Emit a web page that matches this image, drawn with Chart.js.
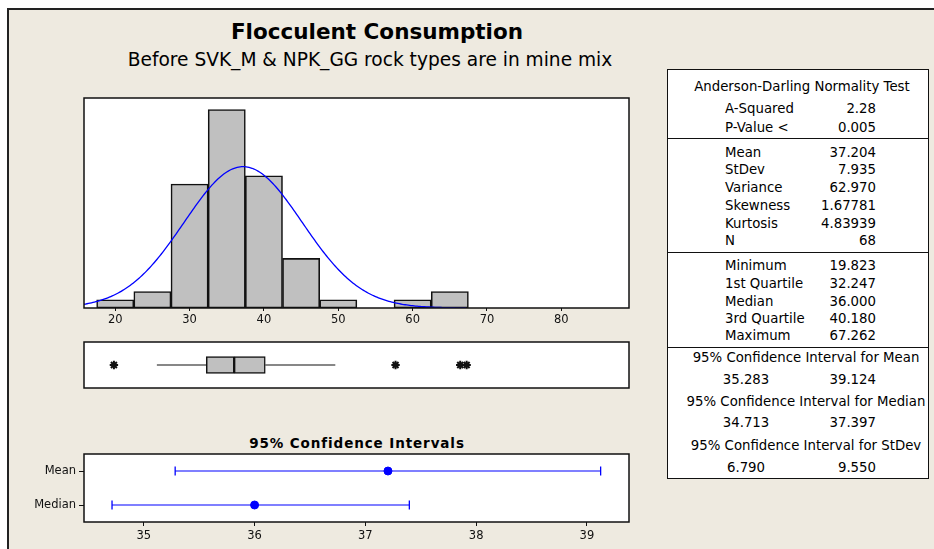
<!DOCTYPE html>
<html>
<head>
<meta charset="utf-8">
<title>Flocculent Consumption</title>
<script src="https://cdn.jsdelivr.net/npm/chart.js@4.4.1/dist/chart.umd.min.js"></script>
<style>
  html, body { margin: 0; padding: 0; width: 934px; height: 549px; overflow: hidden; background: #ffffff;
    font-family: "DejaVu Sans", Verdana, sans-serif; color: #000; }
  #frame { position: absolute; left: 7px; top: 8px; width: 960px; height: 580px; background: #EEEAE0;
    border-left: 2px solid #222; border-top: 2px solid #222; }
  .txt { position: absolute; white-space: nowrap; }
  canvas { position: absolute; }
  #stats { position: absolute; left: 667px; top: 69px; width: 260px; height: 408px; background: #fff;
    border: 1.5px solid #111; }
  .rule { position: absolute; left: 667px; width: 262px; height: 0; border-top: 1.5px solid #111; }
</style>
</head>
<body>
<div id="frame"></div>
<div id="stats"></div>
<script>
// ---- Histogram bins (width 5) ----
const BIN_CENTERS = [20, 25, 30, 35, 40, 45, 50, 55, 60, 65, 70, 75, 80, 85];
const BIN_COUNTS  = [1, 2, 15, 24, 16, 6, 1, 0, 1, 2, 0, 0, 0, 0];
const HIST_TICKS  = [20, 30, 40, 50, 60, 70, 80];

// ---- Summary statistics ----
const AD_LABELS = ['A-Squared', 'P-Value <'];
const AD_VALUES = ['2.28', '0.005'];
const MOMENT_LABELS = ['Mean', 'StDev', 'Variance', 'Skewness', 'Kurtosis', 'N'];
const MOMENT_VALUES = [37.204, 7.935, 62.970, 1.67781, 4.83939, 68];
const MOMENT_DIGITS = [3, 3, 3, 5, 5, 0];
const QUANTILE_LABELS = ['Minimum', '1st Quartile', 'Median', '3rd Quartile', 'Maximum'];
const QUANTILE_VALUES = [19.823, 32.247, 36.000, 40.180, 67.262];

// ---- Boxplot whisker ends and outliers ----
const WHISKER_ENDS = [25.6, 49.6];
const OUTLIERS = [19.823, 57.7, 66.4, 67.262];

// ---- 95% confidence intervals ----
const CI_NAMES = ['Mean', 'Median', 'StDev'];
const CI_LOW   = [35.283, 34.713, 6.790];
const CI_HIGH  = [39.124, 37.397, 9.550];
const CI_TICKS = [35, 36, 37, 38, 39];

const MEAN = MOMENT_VALUES[0], STDEV = MOMENT_VALUES[1], N = MOMENT_VALUES[5];
const Q1 = QUANTILE_VALUES[1], MEDIAN = QUANTILE_VALUES[2], Q3 = QUANTILE_VALUES[3], MAXV = QUANTILE_VALUES[4];
const BIN_WIDTH = 5;

const FONT = '"DejaVu Sans", Verdana, sans-serif';
const PAD = 3;

// ---------- text helpers ----------
function addText(str, x, y, size, align, extra) {
  const d = document.createElement('div');
  d.className = 'txt';
  d.textContent = str;
  const lh = Math.round(size * 1.2);
  d.style.fontSize = size + 'px';
  d.style.lineHeight = lh + 'px';
  d.style.top = (y - lh / 2) + 'px';
  if (align === 'left') { d.style.left = x + 'px'; }
  else if (align === 'right') { d.style.left = (x - 400) + 'px'; d.style.width = '400px'; d.style.textAlign = 'right'; }
  else { d.style.left = (x - 300) + 'px'; d.style.width = '600px'; d.style.textAlign = 'center'; }
  if (extra) Object.assign(d.style, extra);
  document.body.appendChild(d);
  return d;
}
function addRule(y) {
  const r = document.createElement('div');
  r.className = 'rule';
  r.style.top = y + 'px';
  document.body.appendChild(r);
}

// ---------- titles ----------
addText('Flocculent Consumption', 377, 32, 21.5, 'center', { fontWeight: 'bold' });
addText('Before SVK_M & NPK_GG rock types are in mine mix', 370, 60, 18.6, 'center');
addText('95% Confidence Intervals', 357, 443, 13.5, 'center', { fontWeight: 'bold', letterSpacing: '0.9px' });

// ---------- statistics table ----------
const TBL_SIZE = 13.3, LABEL_X = 725, VALUE_X = 876, HEAD_X = 802, PAIR_X = 746;
addText('Anderson-Darling Normality Test', HEAD_X, 87, TBL_SIZE, 'center');
[109, 127.5].forEach((y, i) => {
  addText(AD_LABELS[i], LABEL_X, y, TBL_SIZE, 'left');
  addText(AD_VALUES[i], VALUE_X, y, TBL_SIZE, 'right');
});
addRule(138);
[152.7, 170, 187.5, 206, 223.5, 241].forEach((y, i) => {
  addText(MOMENT_LABELS[i], LABEL_X, y, TBL_SIZE, 'left');
  addText(MOMENT_VALUES[i].toFixed(MOMENT_DIGITS[i]), VALUE_X, y, TBL_SIZE, 'right');
});
addRule(252);
[265.5, 284.3, 301.7, 318.5, 335.7].forEach((y, i) => {
  addText(QUANTILE_LABELS[i], LABEL_X, y, TBL_SIZE, 'left');
  addText(QUANTILE_VALUES[i].toFixed(3), VALUE_X, y, TBL_SIZE, 'right');
});
addRule(347);
[[357.5, 380], [401.7, 423.3], [445.7, 467.7]].forEach((ys, i) => {
  addText('95% Confidence Interval for ' + CI_NAMES[i], HEAD_X + 4, ys[0], TBL_SIZE, 'center');
  addText(CI_LOW[i].toFixed(3), PAIR_X, ys[1], TBL_SIZE, 'center');
  addText(CI_HIGH[i].toFixed(3), VALUE_X, ys[1], TBL_SIZE, 'right');
});

// ---------- chart helpers ----------
function makeCanvas(area, axisLeft, axisBottom) {
  const c = document.createElement('canvas');
  const w = area.r - area.l + axisLeft + 2 * PAD;
  const h = area.b - area.t + axisBottom + 2 * PAD;
  c.width = w; c.height = h;
  c.style.width = w + 'px'; c.style.height = h + 'px';
  c.style.left = (area.l - axisLeft - PAD) + 'px';
  c.style.top = (area.t - PAD) + 'px';
  document.body.appendChild(c);
  return c;
}

// white plot panel with a dark frame
const panelFrame = {
  id: 'panelFrame',
  beforeDraw(chart) {
    const { ctx, chartArea: a } = chart;
    ctx.save();
    ctx.fillStyle = '#ffffff';
    ctx.fillRect(a.left, a.top, a.right - a.left, a.bottom - a.top);
    ctx.restore();
  },
  afterDatasetsDraw(chart) {
    const { ctx, chartArea: a } = chart;
    ctx.save();
    ctx.strokeStyle = '#111';
    ctx.lineWidth = 1.5;
    ctx.strokeRect(a.left, a.top, a.right - a.left, a.bottom - a.top);
    ctx.restore();
  }
};

const baseOptions = {
  responsive: false,
  animation: false,
  events: [],
  layout: { padding: PAD, autoPadding: false },
  plugins: { legend: { display: false }, tooltip: { enabled: false } }
};

function fixedHeight(h) {
  return s => { s.height = h; s.paddingLeft = 0; s.paddingRight = 0; };
}
function fixedWidth(w) {
  return s => { s.width = w; s.paddingTop = 0; s.paddingBottom = 0; };
}

const X_MIN = 15.8, X_MAX = 89.1;

// ---------- histogram with fitted normal curve ----------
const peakScale = N * BIN_WIDTH / (STDEV * Math.sqrt(2 * Math.PI));
const normalCurve = [];
for (let x = X_MIN; x <= MAXV + 1e-9; x += 0.2) {
  const z = (x - MEAN) / STDEV;
  normalCurve.push({ x: x, y: peakScale * Math.exp(-0.5 * z * z) });
}

new Chart(makeCanvas({ l: 84, t: 98, r: 629, b: 308 }, 0, 22), {
  type: 'scatter',
  data: {
    datasets: [
      {
        type: 'line', data: normalCurve, borderColor: '#0000ff', borderWidth: 1.3,
        pointRadius: 0, tension: 0, order: 0
      },
      {
        type: 'bar', data: BIN_CENTERS.map((x, i) => ({ x: x, y: BIN_COUNTS[i] })),
        backgroundColor: '#c0c0c0', borderColor: '#111', borderWidth: 1.6, borderSkipped: false,
        barPercentage: 1, categoryPercentage: 1, order: 1
      }
    ]
  },
  options: Object.assign({}, baseOptions, {
    scales: {
      x: {
        type: 'linear', min: X_MIN, max: X_MAX, offset: false,
        afterBuildTicks: s => { s.ticks = HIST_TICKS.map(v => ({ value: v })); },
        afterFit: fixedHeight(22),
        grid: { drawOnChartArea: false, drawTicks: true, tickLength: 3, color: '#111', offset: false },
        border: { display: false },
        ticks: { color: '#111', font: { family: FONT, size: 11.5 }, padding: 2, maxRotation: 0, autoSkip: false }
      },
      y: { type: 'linear', display: false, min: 0, max: 25.4 }
    }
  }),
  plugins: [panelFrame]
});

// ---------- boxplot ----------
new Chart(makeCanvas({ l: 84, t: 342, r: 629, b: 388 }, 0, 0), {
  type: 'scatter',
  data: {
    datasets: [
      {
        type: 'bar', indexAxis: 'y',
        data: [{ x: [Q1, MEDIAN], y: 1 }, { x: [MEDIAN, Q3], y: 1 }],
        backgroundColor: '#c0c0c0', borderColor: '#111', borderWidth: 1.5, borderSkipped: false,
        barThickness: 17, order: 1
      },
      {
        type: 'line', data: [{ x: WHISKER_ENDS[0], y: 1 }, { x: Q1, y: 1 }],
        borderColor: '#111', borderWidth: 1.2, pointRadius: 0, order: 2
      },
      {
        type: 'line', data: [{ x: Q3, y: 1 }, { x: WHISKER_ENDS[1], y: 1 }],
        borderColor: '#111', borderWidth: 1.2, pointRadius: 0, order: 2
      },
      {
        type: 'scatter', data: OUTLIERS.map(x => ({ x: x, y: 1 })),
        pointStyle: 'star', pointRadius: 4.2, borderColor: '#111', borderWidth: 2, order: 0
      }
    ]
  },
  options: Object.assign({}, baseOptions, {
    scales: {
      x: { type: 'linear', display: false, min: X_MIN, max: X_MAX, offset: false },
      y: { type: 'linear', display: false, min: 0, max: 2, offset: false }
    }
  }),
  plugins: [panelFrame]
});

// ---------- confidence interval plot ----------
const CI_ROWS_SHOWN = CI_NAMES.slice(0, 2);
const CI_CENTERS = [MEAN, MEDIAN];
const ciDatasets = CI_ROWS_SHOWN.map((name, i) => ({
  type: 'line',
  data: [{ x: CI_LOW[i], y: name }, { x: CI_HIGH[i], y: name }],
  borderColor: '#0000ff', borderWidth: 1.2,
  pointStyle: 'line', pointRotation: 90, pointRadius: 4.5,
  pointBorderColor: '#0000ff', pointBorderWidth: 1.3, order: 1
}));
ciDatasets.push({
  type: 'scatter',
  data: CI_ROWS_SHOWN.map((name, i) => ({ x: CI_CENTERS[i], y: name })),
  pointStyle: 'circle', pointRadius: 4, backgroundColor: '#0000ff', borderColor: '#0000ff', order: 0
});

new Chart(makeCanvas({ l: 84, t: 454, r: 629, b: 522 }, 62, 22), {
  type: 'scatter',
  data: { datasets: ciDatasets },
  options: Object.assign({}, baseOptions, {
    scales: {
      x: {
        type: 'linear', min: 34.46, max: 39.38, offset: false,
        afterBuildTicks: s => { s.ticks = CI_TICKS.map(v => ({ value: v })); },
        afterFit: fixedHeight(22),
        grid: { drawOnChartArea: false, drawTicks: true, tickLength: 4, color: '#111', offset: false },
        border: { display: false },
        ticks: { color: '#111', font: { family: FONT, size: 11.5 }, padding: 3, maxRotation: 0, autoSkip: false }
      },
      y: {
        type: 'category', labels: CI_ROWS_SHOWN, offset: true,
        afterFit: fixedWidth(62),
        grid: { drawOnChartArea: false, drawTicks: true, tickLength: 5, color: '#111', offset: false },
        border: { display: false },
        ticks: { color: '#111', font: { family: FONT, size: 11.5 }, padding: 3, autoSkip: false }
      }
    }
  }),
  plugins: [panelFrame]
});
</script>
</body>
</html>
